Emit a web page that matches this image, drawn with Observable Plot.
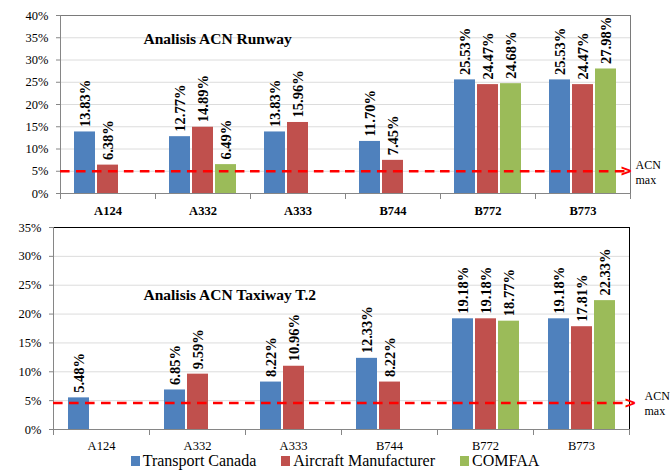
<!DOCTYPE html>
<html><head><meta charset="utf-8">
<script src="https://cdn.jsdelivr.net/npm/d3@7"></script>
<script src="https://cdn.jsdelivr.net/npm/@observablehq/plot@0.6"></script>
<style>
body{margin:0;background:#fff;width:670px;height:471px;overflow:hidden;position:relative}
#top{position:absolute;left:0;top:0}
#bottom{position:absolute;left:0;top:222px}
#legend{position:absolute;left:0;top:452px;width:670px;display:flex;justify-content:center;align-items:center;color:#000}
.item{display:flex;align-items:center;margin:0 12.5px}
.sw{width:9px;height:10px;margin-right:3px}
svg{overflow:visible}
</style></head><body>
<div id="top"></div><div id="bottom"></div><div id="legend"></div>
<script>
const aircraft = ["A124","A332","A333","B744","B772","B773"];
const series = ["Transport Canada","Aircraft Manufacturer","COMFAA"];
const colors = ["#4F81BD","#C0504D","#9BBB59"];

// Analisis ACN Runway (%)
const runwayTransportCanada = [13.83, 12.77, 13.83, 11.70, 25.53, 25.53];
const runwayAircraftManufacturer = [6.38, 14.89, 15.96, 7.45, 24.47, 24.47];
const runwayCOMFAA = [null, 6.49, null, null, 24.68, 27.98];
const runwayAcnMax = 5;
const runwayTicks = [0, 5, 10, 15, 20, 25, 30, 35, 40];

// Analisis ACN Taxiway T.2 (%)
const taxiwayTransportCanada = [5.48, 6.85, 8.22, 12.33, 19.18, 19.18];
const taxiwayAircraftManufacturer = [null, 9.59, 10.96, 8.22, 19.18, 17.81];
const taxiwayCOMFAA = [null, null, null, null, 18.77, 22.33];
const taxiwayAcnMax = 4.6;
const taxiwayTicks = [0, 5, 10, 15, 20, 25, 30, 35];

const FONT = "Liberation Serif";

function rowsOf(lists) {
  const rows = [];
  aircraft.forEach((a, i) => {
    series.forEach((s, j) => {
      const v = lists[j][i];
      if (v != null) rows.push({aircraft: a, series: s, value: v});
    });
  });
  return rows;
}

function panel(o) {
  const plotH = o.height - o.mt - o.mb;
  const step = (670 - o.ml - o.mr) / aircraft.length;
  const period = step / 6;
  const dash = `${(period * 0.6).toFixed(2)},${(period * 0.4).toFixed(2)}`;
  const first = aircraft[0], last = aircraft[aircraft.length - 1];
  return Plot.plot({
    width: 670, height: o.height,
    marginTop: o.mt, marginBottom: o.mb, marginLeft: o.ml, marginRight: o.mr,
    style: {fontFamily: FONT, fontSize: "12.5px", color: "#000", background: "#fff", overflow: "visible"},
    fx: {domain: aircraft, padding: 0, label: null, axis: null},
    x: {domain: series, paddingInner: 0.1, paddingOuter: 0.6, axis: null},
    y: {domain: o.domain, label: null, axis: null},
    color: {domain: series, range: colors},
    marks: [
      Plot.gridY(o.ticks.filter(t => t > 0 && t < o.domain[1]), {stroke: "#dcdcdc", strokeOpacity: 1}),
      Plot.barY(o.rows, {fx: "aircraft", x: "series", y: "value", fill: "series"}),
      Plot.text(o.rows, {fx: "aircraft", x: "series", y: "value", text: d => d.value.toFixed(2) + "%",
        rotate: -90, textAnchor: "start", lineAnchor: "middle", dy: -5, fontWeight: "bold", fontSize: 14.5, fontFamily: FONT}),
      Plot.frame({facet: "super", stroke: o.frameColor, strokeOpacity: 1}),
      Plot.frame({anchor: "left", stroke: "#868686", insetTop: plotH, insetBottom: -5}),
      Plot.frame({anchor: "right", stroke: "#868686", insetTop: plotH, insetBottom: -5}),
      Plot.ruleY([0], {stroke: "#868686"}),
      Plot.frame({facet: "super", anchor: "left", stroke: "#868686"}),
      Plot.axisY(o.ticks, {tickFormat: d => d + "%", tickSize: 4, tickPadding: 8, stroke: "#868686", fontSize: 12.5, fontFamily: FONT, label: null}),
      Plot.axisFx({anchor: "bottom", tickSize: 0, tickPadding: o.fxPad, fontSize: 12.5, fontFamily: FONT, fontWeight: o.bold ? "bold" : "normal", label: null}),
      Plot.ruleY([o.acn], {stroke: "#FF0000", strokeWidth: 2.5, strokeDasharray: dash}),
      Plot.text([{fx: last, y: o.acn}], {fx: "fx", y: "y", frameAnchor: "right", dx: o.arrowDx, text: () => ">",
        fill: "#FF0000", fontSize: 15, fontWeight: "bold", fontFamily: "DejaVu Sans", textAnchor: "end", lineAnchor: "middle"}),
      Plot.text([{fx: last, y: o.acn}], {fx: "fx", y: "y", frameAnchor: "right", dx: o.labelDx, text: () => "ACN\nmax",
        fontSize: 12, fontFamily: FONT, textAnchor: "start", lineAnchor: "middle", lineHeight: 1.25}),
      Plot.text([{fx: first, t: o.title}], {fx: "fx", frameAnchor: "top-left", dx: o.titleDx, dy: o.titleDy, text: "t",
        fontSize: 15.5, fontWeight: "bold", fontFamily: FONT, textAnchor: "start", lineAnchor: "middle"})
    ]
  });
}

document.getElementById("top").append(panel({
  rows: rowsOf([runwayTransportCanada, runwayAircraftManufacturer, runwayCOMFAA]),
  title: "Analisis ACN Runway", domain: [0, 40], ticks: runwayTicks, acn: runwayAcnMax,
  height: 222, mt: 15, mb: 29, ml: 57, mr: 38, bold: true, frameColor: "#7a7a7a", fxPad: 13,
  arrowDx: 2, labelDx: 5, titleDx: 83, titleDy: 24
}));

document.getElementById("bottom").append(panel({
  rows: rowsOf([taxiwayTransportCanada, taxiwayAircraftManufacturer, taxiwayCOMFAA]),
  title: "Analisis ACN Taxiway T.2", domain: [0, 35], ticks: taxiwayTicks, acn: taxiwayAcnMax,
  height: 230, mt: 5, mb: 23, ml: 53, mr: 41, bold: false, frameColor: "#000", fxPad: 12,
  arrowDx: 7, labelDx: 15, titleDx: 90, titleDy: 68
}));

const legend = document.getElementById("legend");
series.forEach((s, i) => {
  const it = document.createElement("div"); it.className = "item";
  const sw = document.createElement("div"); sw.className = "sw"; sw.style.background = colors[i];
  const tx = document.createElement("span"); tx.textContent = s;
  tx.style.fontFamily = FONT; tx.style.fontSize = "16px"; tx.style.lineHeight = "18px";
  it.append(sw, tx); legend.append(it);
});
</script>
</body></html>
